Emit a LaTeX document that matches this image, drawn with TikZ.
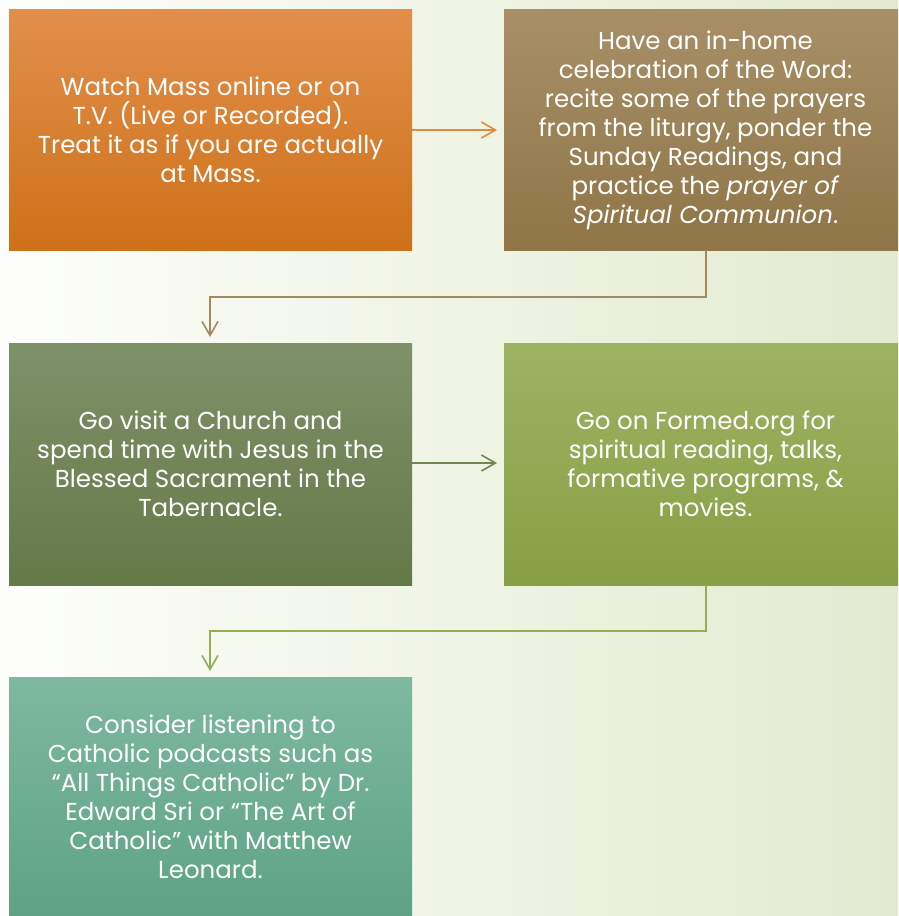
\documentclass[tikz,border=0pt]{standalone}
\usepackage{fontspec}
\setmainfont{Poppins}
\usetikzlibrary{arrows.meta}
\definecolor{bgL}{HTML}{FDFEFB}
\definecolor{bgR}{HTML}{E3EACF}
\definecolor{oT}{HTML}{E28F4C}
\definecolor{oB}{HTML}{CE7118}
\definecolor{bT}{HTML}{A88F68}
\definecolor{bB}{HTML}{8F7547}
\definecolor{gT}{HTML}{7F9169}
\definecolor{gB}{HTML}{647948}
\definecolor{lT}{HTML}{9EB264}
\definecolor{lB}{HTML}{879F44}
\definecolor{tT}{HTML}{7EB8A0}
\definecolor{tB}{HTML}{5DA383}
\definecolor{aO}{HTML}{E08A3C}
\definecolor{aB}{HTML}{A38A5C}
\definecolor{aG}{HTML}{6F8651}
\definecolor{aL}{HTML}{95AD55}
\begin{document}
\begin{tikzpicture}[x=1pt,y=-1pt,
  boxtext/.style={text=white, align=center, inner sep=0pt, font=\fontsize{24.5}{29}\selectfont},
  flow/.style={line width=1.6pt, -{Straight Barb[length=14pt,width=16pt,line width=1.6pt]}}]
\useasboundingbox (0,0) rectangle (898,916);
\begin{scope}
\clip (0,0) rectangle (898,916);
\shade[left color=bgL, right color=bgR] (0,0) rectangle (898,916);
\shade[top color=oT, bottom color=oB] (9,9) rectangle (412,250);
\shade[top color=bT, bottom color=bB] (504,9) rectangle (907,250);
\shade[top color=gT, bottom color=gB] (9,343) rectangle (412,585);
\shade[top color=lT, bottom color=lB] (504,343) rectangle (907,585);
\shade[top color=tT, bottom color=tB] (9,677) rectangle (412,918);
\end{scope}
\coordinate (b1e) at (412,130);
\coordinate (b2w) at (497,130);
\coordinate (b2s) at (706,250);
\coordinate (b3n) at (210,337);
\coordinate (b3e) at (412,463);
\coordinate (b4w) at (497,463);
\coordinate (b4s) at (706,585);
\coordinate (b5n) at (210,671);
\node[boxtext] (t1) at (210.5,130) {Watch Mass online or on\\T.V. (Live or Recorded).\\Treat it as if you are actually\\at Mass.};
\node[boxtext] (t2) at (705.5,130) {Have an in-home\\celebration of the Word:\\recite some of the prayers\\from the liturgy, ponder the\\Sunday Readings, and\\practice the \textit{prayer of}\\\textit{Spiritual Communion}.};
\node[boxtext] (t3) at (210.5,464) {Go visit a Church and\\spend time with Jesus in the\\Blessed Sacrament in the\\Tabernacle.};
\node[boxtext] (t4) at (705.5,464) {Go on Formed.org for\\spiritual reading, talks,\\formative programs, \&\\movies.};
\node[boxtext] (t5) at (210.5,797) {Consider listening to\\Catholic podcasts such as\\“All Things Catholic” by Dr.\\Edward Sri or “The Art of\\Catholic” with Matthew\\Leonard.};
\draw[flow, aO] (b1e) -- (b2w);
\draw[flow, aB] (b2s) -- (706,297) -- (210,297) -- (b3n);
\draw[flow, aG] (b3e) -- (b4w);
\draw[flow, aL] (b4s) -- (706,631) -- (210,631) -- (b5n);
\end{tikzpicture}
\end{document}
